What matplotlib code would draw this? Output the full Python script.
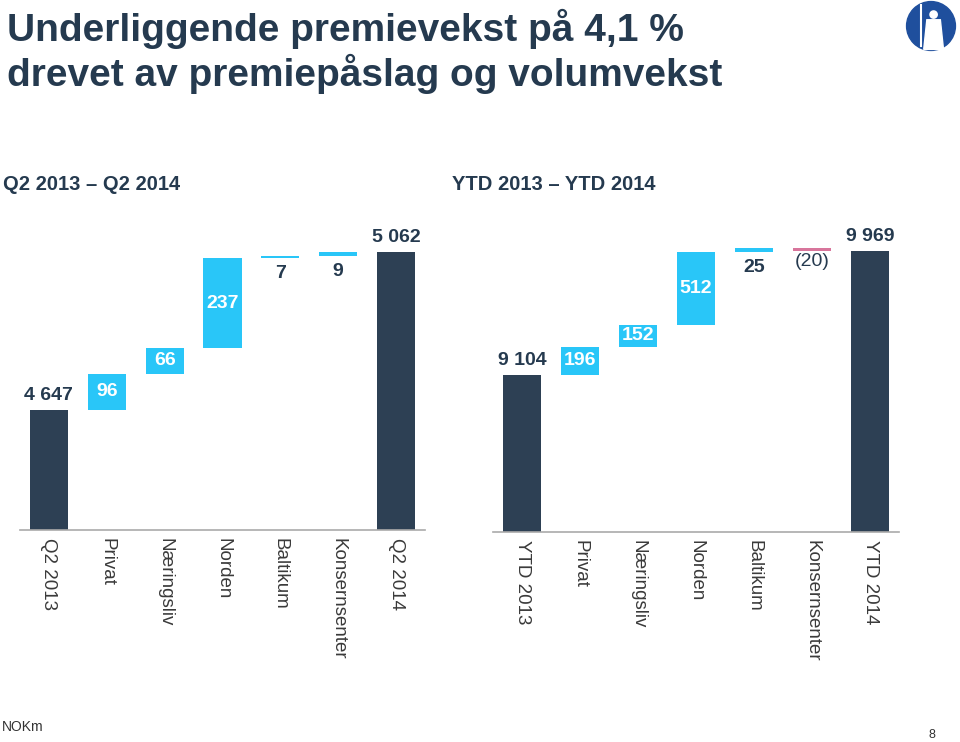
import matplotlib.pyplot as plt
from matplotlib.patches import Circle

# Q2 waterfall
q2_labels = ["Q2 2013", "Privat", "Næringsliv", "Norden", "Baltikum", "Konsernsenter", "Q2 2014"]
q2_start = 4647
q2_deltas = [96, 66, 237, 7, 9]
q2_end = 5062
q2_text = ["4 647", "96", "66", "237", "7", "9", "5 062"]

# YTD waterfall
ytd_labels = ["YTD 2013", "Privat", "Næringsliv", "Norden", "Baltikum", "Konsernsenter", "YTD 2014"]
ytd_start = 9104
ytd_deltas = [196, 152, 512, 25, -20]
ytd_end = 9969
ytd_text = ["9 104", "196", "152", "512", "25", "(20)", "9 969"]

DARK = "#2d4054"
BLUE = "#29c6f8"
PINK = "#d8759c"
TXT = "#253a4f"

plt.rcParams["font.family"] = ["Liberation Sans", "DejaVu Sans"]

fig = plt.figure(figsize=(9.6, 7.42), dpi=100)
W, H = 960, 742


def px_axes(x0, x1, ybot, ytop):
    return fig.add_axes([x0 / W, (H - ybot) / H, (x1 - x0) / W, (ybot - ytop) / H])


def waterfall(ax, labels, start, deltas, end, texts, ylim):
    ymin = ylim[0]
    ax.set_ylim(*ylim)
    ax.set_xlim(-0.5, len(labels) - 0.5)
    w = 0.66
    ax.bar(0, start - ymin, bottom=ymin, width=w, color=DARK)
    ax.bar(len(labels) - 1, end - ymin, bottom=ymin, width=w, color=DARK)
    span = ylim[1] - ylim[0]
    ax.text(0, start + span * 0.02, texts[0], ha="center", va="bottom",
            fontsize=14, fontweight="bold", color=TXT)
    ax.text(len(labels) - 1, end + span * 0.02, texts[-1], ha="center", va="bottom",
            fontsize=14, fontweight="bold", color=TXT)
    cum = start
    for i, d in enumerate(deltas, start=1):
        col = BLUE if d > 0 else PINK
        ax.bar(i, d, bottom=cum, width=w, color=col)
        top = cum + d
        if abs(d) > 40:
            ax.text(i, cum + d / 2, texts[i], ha="center", va="center",
                    fontsize=14, fontweight="bold", color="white")
        else:
            low = min(cum, top)
            off = 0.035 if d < 0 else 0.05
            ax.text(i, low - span * off, texts[i], ha="center", va="center",
                    fontsize=14, fontweight="bold" if d > 0 else "normal", color=TXT)
        cum = top
    ax.set_xticks(range(len(labels)))
    ax.set_xticklabels(labels, rotation=270, fontsize=13.5, color="#3a3a3a",
                       va="top", ha="center")
    ax.tick_params(axis="x", length=0, pad=6)
    ax.set_yticks([])
    for s in ["top", "right", "left"]:
        ax.spines[s].set_visible(False)
    ax.spines["bottom"].set_color("#aaaaaa")
    ax.spines["bottom"].set_linewidth(1.2)
    ax.patch.set_alpha(0)


ax1 = px_axes(20, 425, 530, 225)
waterfall(ax1, q2_labels, q2_start, q2_deltas, q2_end, q2_text, (4331, 5134))

ax2 = px_axes(493, 899, 532, 225)
waterfall(ax2, ytd_labels, ytd_start, ytd_deltas, ytd_end, ytd_text, (8009, 10150))

fig.text(7 / W, 1 - 9 / H, "Underliggende premievekst på 4,1 %\ndrevet av premiepåslag og volumvekst",
         ha="left", va="top", fontsize=28, fontweight="bold", color=TXT, linespacing=1.15)

fig.text(3 / W, 1 - 185 / H, "Q2 2013 – Q2 2014", ha="left", va="center",
         fontsize=14.5, fontweight="bold", color=TXT)
fig.text(452 / W, 1 - 185 / H, "YTD 2013 – YTD 2014", ha="left", va="center",
         fontsize=14.5, fontweight="bold", color=TXT)

fig.text(2 / W, 1 - 727 / H, "NOKm", ha="left", va="center", fontsize=10,
         color="#333333")
fig.text(932 / W, 1 - 735 / H, "8", ha="center", va="center", fontsize=9,
         color="#333333")

# logo
lax = fig.add_axes([905 / W, 1 - 52 / H, 52 / W, 52 / H])
lax.set_xlim(0, 1)
lax.set_ylim(0, 1)
lax.set_aspect("equal")
lax.axis("off")
lax.add_patch(Circle((0.5, 0.5), 0.47, color="#1f4f9d"))
lax.plot([0.3, 0.3], [0.12, 0.9], color="white", lw=1.5)
lax.add_patch(Circle((0.55, 0.72), 0.07, color="white"))
lax.fill([0.42, 0.68, 0.74, 0.36], [0.62, 0.62, 0.05, 0.05], color="white")

fig.savefig("out.png", dpi=100)
